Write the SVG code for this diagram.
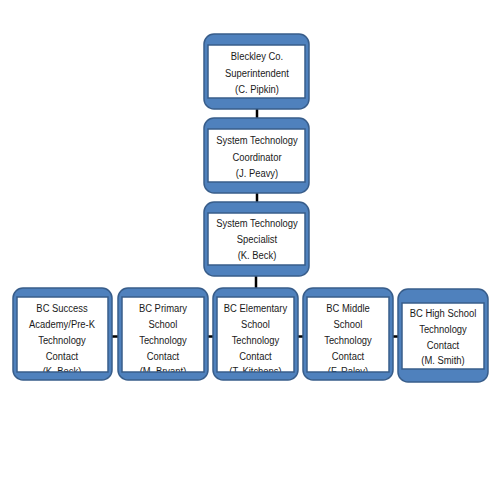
<svg xmlns="http://www.w3.org/2000/svg" width="495" height="495" viewBox="0 0 495 495">
<style>
.bg{fill:#ffffff}
.frame{fill:#4f81bd;stroke:#385d8a;stroke-width:1.5;fill-rule:evenodd}
.inner{fill:#ffffff}
.edge{stroke:#000000;stroke-width:2.5;fill:none}
text{font-family:"Liberation Sans",Arial,sans-serif;font-size:11.5px;fill:#1a1a1a;text-anchor:middle}
</style>
<rect class="bg" x="0" y="0" width="495" height="495"/>
<g id="connectors">
<line class="edge" x1="257" y1="109" x2="257" y2="118"/>
<line class="edge" x1="257" y1="193" x2="257" y2="202"/>
<line class="edge" x1="256" y1="276" x2="256" y2="290"/>
<line class="edge" x1="112" y1="336.5" x2="118" y2="336.5"/>
<line class="edge" x1="208" y1="336.5" x2="213" y2="336.5"/>
<line class="edge" x1="298" y1="336.5" x2="303" y2="336.5"/>
<line class="edge" x1="393" y1="336.5" x2="398" y2="336.5"/>
</g>
<g id="n1">
<rect class="inner" x="208" y="45" width="97" height="53"/>
<g transform="matrix(0.82,0,0,1,46.26,0)">
<text x="257" y="60.5">Bleckley Co.</text>
<text x="257" y="77">Superintendent</text>
<text x="257" y="93.5">(C. Pipkin)</text>
</g>
<path class="frame" d="M214,34 H299 A10,10 0 0 1 309,44 V99 A10,10 0 0 1 299,109 H214 A10,10 0 0 1 204,99 V44 A10,10 0 0 1 214,34 Z M208,45 V98 H305 V45 Z"/>
</g>
<g id="n2">
<rect class="inner" x="208" y="129" width="97" height="53"/>
<g transform="matrix(0.82,0,0,1,46.26,0)">
<text x="257" y="144.5">System Technology</text>
<text x="257" y="161">Coordinator</text>
<text x="257" y="177.5">(J. Peavy)</text>
</g>
<path class="frame" d="M214,118 H299 A10,10 0 0 1 309,128 V183 A10,10 0 0 1 299,193 H214 A10,10 0 0 1 204,183 V128 A10,10 0 0 1 214,118 Z M208,129 V182 H305 V129 Z"/>
</g>
<g id="n3">
<rect class="inner" x="208" y="213" width="97" height="53"/>
<g transform="matrix(0.82,0,0,1,46.26,0)">
<text x="257" y="227.5">System Technology</text>
<text x="257" y="243.5">Specialist</text>
<text x="257" y="259.5">(K. Beck)</text>
</g>
<path class="frame" d="M214,202 H299 A10,10 0 0 1 309,212 V266 A10,10 0 0 1 299,276 H214 A10,10 0 0 1 204,266 V212 A10,10 0 0 1 214,202 Z M208,213 V265 H305 V213 Z"/>
</g>
<g id="n4">
<rect class="inner" x="17" y="297" width="91" height="75"/>
<g transform="matrix(0.82,0,0,1,11.16,0)">
<text x="62" y="312">BC Success</text>
<text x="62" y="328">Academy/Pre-K</text>
<text x="62" y="344">Technology</text>
<text x="62" y="360">Contact</text>
<text x="62" y="375.5">(K. Beck)</text>
</g>
<path class="frame" d="M23,288 H102 A10,10 0 0 1 112,298 V370 A10,10 0 0 1 102,380 H23 A10,10 0 0 1 13,370 V298 A10,10 0 0 1 23,288 Z M17,297 V372 H108 V297 Z"/>
</g>
<g id="n5">
<rect class="inner" x="122" y="297" width="82" height="75"/>
<g transform="matrix(0.82,0,0,1,29.34,0)">
<text x="163" y="312">BC Primary</text>
<text x="163" y="328">School</text>
<text x="163" y="344">Technology</text>
<text x="163" y="360">Contact</text>
<text x="163" y="375.5">(M. Bryant)</text>
</g>
<path class="frame" d="M128,288 H198 A10,10 0 0 1 208,298 V370 A10,10 0 0 1 198,380 H128 A10,10 0 0 1 118,370 V298 A10,10 0 0 1 128,288 Z M122,297 V372 H204 V297 Z"/>
</g>
<g id="n6">
<rect class="inner" x="217" y="297" width="77" height="75"/>
<g transform="matrix(0.82,0,0,1,45.99,0)">
<text x="255.5" y="312">BC Elementary</text>
<text x="255.5" y="328">School</text>
<text x="255.5" y="344">Technology</text>
<text x="255.5" y="360">Contact</text>
<text x="255.5" y="375.5">(T. Kitchens)</text>
</g>
<path class="frame" d="M223,288 H288 A10,10 0 0 1 298,298 V370 A10,10 0 0 1 288,380 H223 A10,10 0 0 1 213,370 V298 A10,10 0 0 1 223,288 Z M217,297 V372 H294 V297 Z"/>
</g>
<g id="n7">
<rect class="inner" x="307" y="297" width="82" height="75"/>
<g transform="matrix(0.82,0,0,1,62.64,0)">
<text x="348" y="312">BC Middle</text>
<text x="348" y="328">School</text>
<text x="348" y="344">Technology</text>
<text x="348" y="360">Contact</text>
<text x="348" y="375.5">(F. Raley)</text>
</g>
<path class="frame" d="M313,288 H383 A10,10 0 0 1 393,298 V370 A10,10 0 0 1 383,380 H313 A10,10 0 0 1 303,370 V298 A10,10 0 0 1 313,288 Z M307,297 V372 H389 V297 Z"/>
</g>
<g id="n8">
<rect class="inner" x="402" y="303" width="82" height="66"/>
<g transform="matrix(0.82,0,0,1,79.74,0)">
<text x="443" y="317.5">BC High School</text>
<text x="443" y="333.5">Technology</text>
<text x="443" y="349">Contact</text>
<text x="443" y="364.5">(M. Smith)</text>
</g>
<path class="frame" d="M408,289 H478 A10,10 0 0 1 488,299 V372 A10,10 0 0 1 478,382 H408 A10,10 0 0 1 398,372 V299 A10,10 0 0 1 408,289 Z M402,303 V369 H484 V303 Z"/>
</g>
</svg>
